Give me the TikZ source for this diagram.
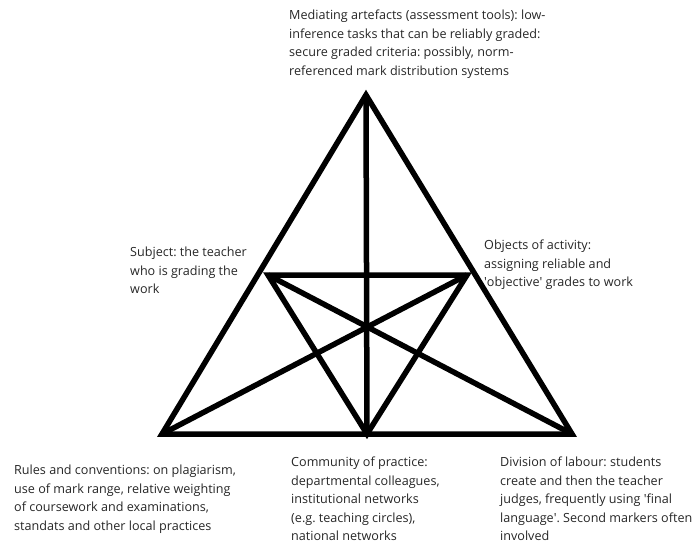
\documentclass[tikz,border=0pt]{standalone}
\usepackage{fontspec}
\setmainfont{Open Sans}
\usepackage{tikz}
\usetikzlibrary{positioning,calc}
\tikzset{
  edge/.style={line width=5.5pt,black},
  note/.style={anchor=north west,align=left,inner sep=0pt,font=\fontsize{12.6}{18.5}\selectfont\frenchspacing,text=black!85}
}
\newcommand{\sq}{\textquotesingle}

\begin{document}
\begin{tikzpicture}[x=1pt,y=-1pt]
\useasboundingbox (0,0) rectangle (698,543);
% corners of the activity triangle
\coordinate (apex) at (366,95);
\coordinate (bl) at (162,434);
\coordinate (br) at (572,434);
\coordinate (bm) at (367,434);
\coordinate (il) at (268,275);
\coordinate (ir) at (467,275);
\draw[edge] (apex)--(bl)--(br)--cycle;
\draw[edge] (il)--(ir)--(bm)--cycle;
\draw[edge] (apex)--(bm);
\draw[edge] (bl)--(ir);
\draw[edge] (br)--(il);
% texts
\node[note] (tool) at (289,10) {Mediating artefacts (assessment tools): low-\\inference tasks that can be reliably graded:\\secure graded criteria: possibly, norm-\\referenced mark distribution systems};
\node[note] (subj) at (130,247) {Subject: the teacher\\who is grading the\\work};
\node[note] (obj) at (484,240) {Objects of activity:\\assigning reliable and\\\sq objective\sq\ grades to work};
\node[note] (rules) at (14,465) {Rules and conventions: on plagiarism,\\use of mark range, relative weighting\\of coursework and examinations,\\standats and other local practices};
\node[note] (comm) at (291,457) {Community of practice:\\departmental colleagues,\\institutional networks\\(e.g. teaching circles),\\national networks};
\node[note] (div) at (500,457) {Division of labour: students\\create and then the teacher\\judges, frequently using \sq final\\language\sq. Second markers often\\involved};
\end{tikzpicture}
\end{document}
